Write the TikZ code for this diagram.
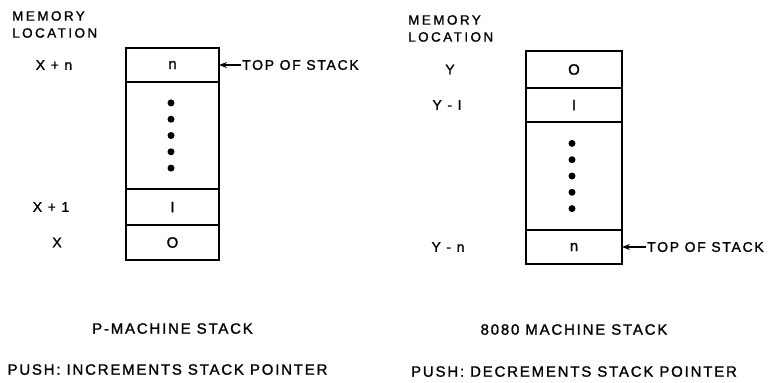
\documentclass[tikz,border=0pt]{standalone}
\usepackage{fontspec}
\setmainfont{Liberation Sans}
\newfontfamily\stackfont{Liberation Sans}[LetterSpace=12, FakeBold=1.2]
\newfontfamily\headfont{Liberation Sans}[LetterSpace=18, FakeBold=1.2]
\usetikzlibrary{positioning, arrows.meta, calc}

\tikzset{
    lbl/.style={font=\stackfont\fontsize{14}{17}\selectfont, inner sep=1pt},
    caption/.style={font=\stackfont\fontsize{15}{18}\selectfont, inner sep=0pt},
    head/.style={font=\headfont\fontsize{13.5}{17}\selectfont, align=left, inner sep=0pt},
    cell/.style={draw, line width=1.3pt, inner sep=0pt, outer sep=0pt, font=\stackfont\fontsize{15}{18}\selectfont},
    pointer/.style={line width=1.2pt, -{Stealth[length=8pt, width=6pt]}}
}

\begin{document}
\begin{tikzpicture}[x=1pt, y=-1pt]
    \useasboundingbox (0,0) rectangle (780,383);

    % P-machine stack
    \node[head, anchor=north west] (memx) at (12,11) {MEMORY\\LOCATION};
    \node[cell, minimum width=93pt, minimum height=34pt] (xn) at (172.5,65) {n};
    \node[cell, minimum width=93pt, minimum height=107pt, below=0pt of xn] (xdots) {};
    \node[cell, minimum width=93pt, minimum height=36pt, below=0pt of xdots] (x1) {I};
    \node[cell, minimum width=93pt, minimum height=35pt, below=0pt of x1] (x0) {O};
    \foreach \k in {-2,...,2}
        \fill ($(xdots.center)+(-1.5,\k*16.3)$) circle (3.5pt);
    \node[lbl] (lxn) at (54,0 |- xn) {X + n};
    \node[lbl] (lx1) at (51,0 |- x1) {X + 1};
    \node[lbl] (lx0) at (57,0 |- x0) {X};
    \node[lbl, anchor=west] (topx) at (241,0 |- xn) {TOP OF STACK};
    \draw[pointer] (topx.west) -- (xn.east);
    \node[caption, below=63pt of x0] (capx) {P-MACHINE STACK};
    \node[caption, below=30pt of capx, xshift=-5pt] (pushx) {PUSH: INCREMENTS STACK POINTER};

    % 8080 machine stack
    \node[head, anchor=north west] (memy) at (408,15) {MEMORY\\LOCATION};
    \node[cell, minimum width=96pt, minimum height=37pt] (y0) at (574,69.5) {O};
    \node[cell, minimum width=96pt, minimum height=34pt, below=0pt of y0] (y1) {I};
    \node[cell, minimum width=96pt, minimum height=108pt, below=0pt of y1] (ydots) {};
    \node[cell, minimum width=96pt, minimum height=34pt, below=0pt of ydots] (yn) {n};
    \foreach \k in {-2,...,2}
        \fill ($(ydots.center)+(-2,\k*16.3)$) circle (3.5pt);
    \node[lbl] (ly0) at (450,0 |- y0) {Y};
    \node[lbl] (ly1) at (447,0 |- y1) {Y - I};
    \node[lbl] (lyn) at (448,0 |- yn) {Y - n};
    \node[lbl, anchor=west] (topy) at (646,0 |- yn) {TOP OF STACK};
    \draw[pointer] (topy.west) -- (yn.east);
    \node[caption, below=60pt of yn] (capy) {8080 MACHINE STACK};
    \node[caption, below=31pt of capy] (pushy) {PUSH: DECREMENTS STACK POINTER};
\end{tikzpicture}
\end{document}
